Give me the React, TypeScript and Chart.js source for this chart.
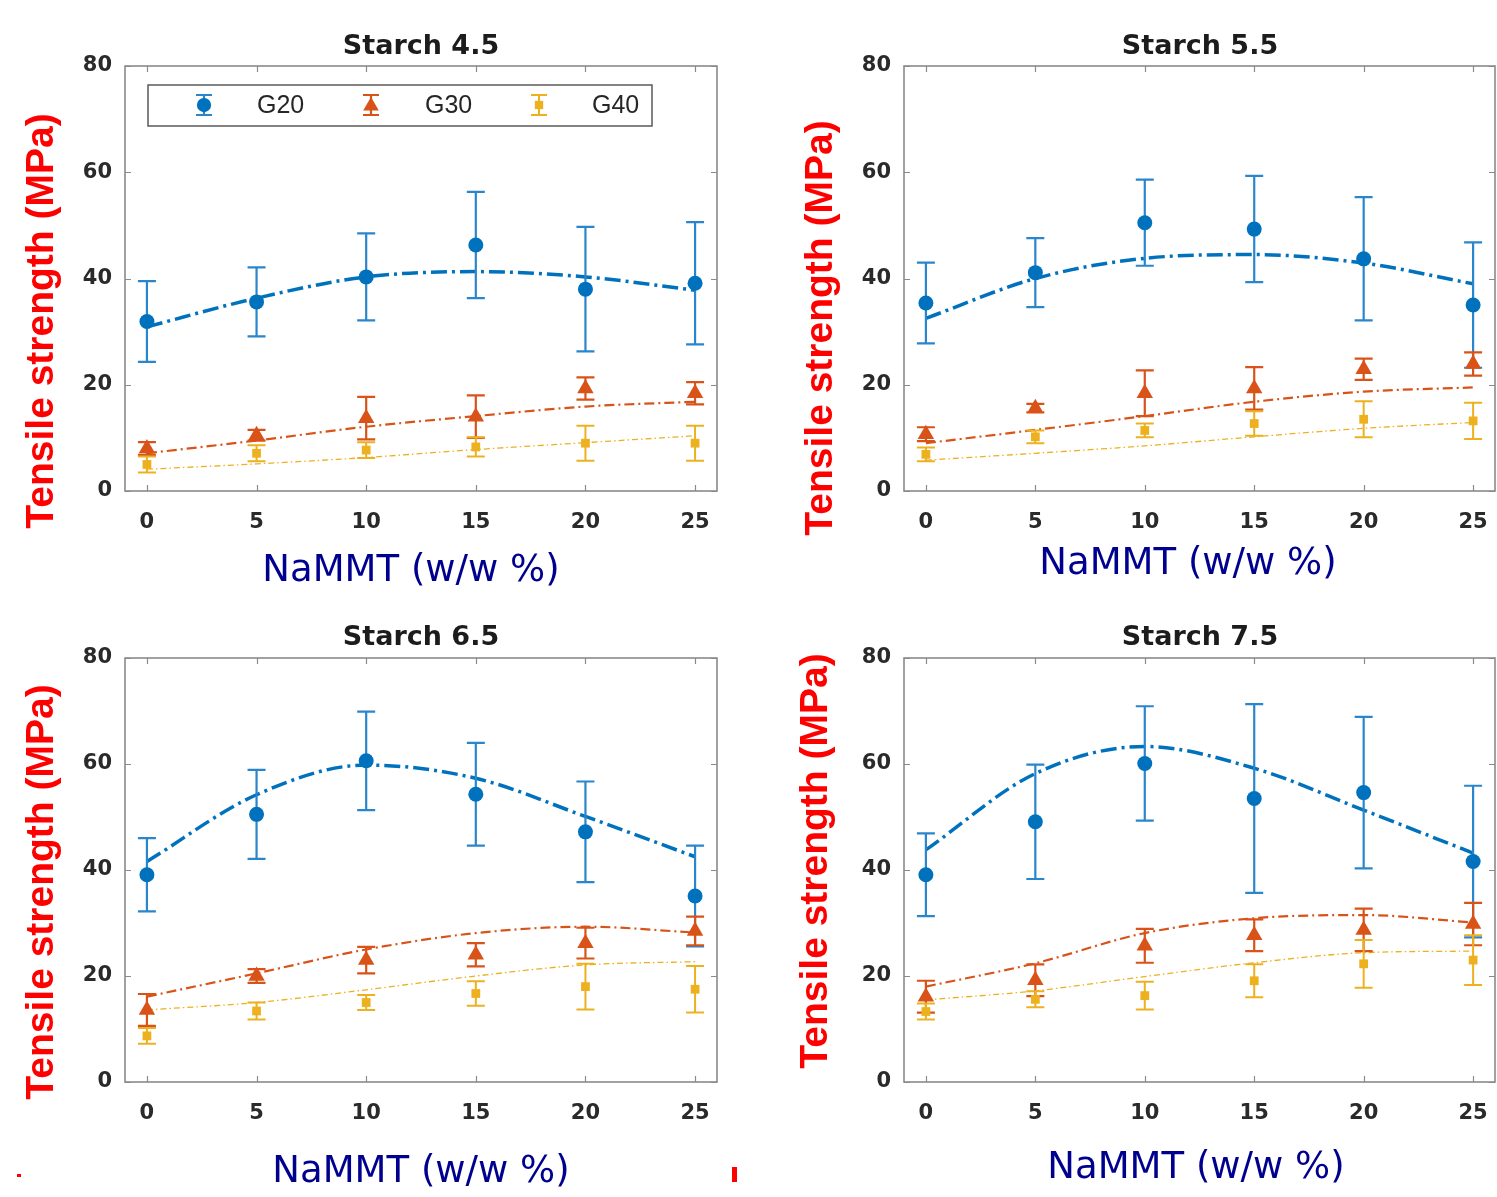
import React, { useEffect, useRef } from 'react';
import { Chart, registerables } from 'chart.js';

Chart.register(...registerables);

// ---------------- data ----------------
const NAMMT = [0, 5, 10, 15, 20, 25];
const X_TICKS = [0, 5, 10, 15, 20, 25];
const Y_TICKS = [0, 20, 40, 60, 80];
const SERIES_NAMES = ['G20', 'G30', 'G40'];
const PANEL_TITLES = ['Starch 4.5', 'Starch 5.5', 'Starch 6.5', 'Starch 7.5'];
const X_LABEL = 'NaMMT (w/w %)';
const Y_LABEL = 'Tensile strength (MPa)';

// Starch 4.5
const S45_G20 = [31.9, 35.6, 40.3, 46.3, 38.0, 39.1];
const S45_G20_ERR = [7.6, 6.5, 8.2, 10.0, 11.7, 11.5];
const S45_G20_FIT = [30.9, 36.3, 40.3, 41.3, 40.3, 37.8];
const S45_G30 = [8.0, 10.5, 13.7, 14.0, 19.3, 18.4];
const S45_G30_ERR = [1.2, 1.0, 4.0, 4.0, 2.1, 2.1];
const S45_G30_FIT = [7.1, 9.5, 12.1, 14.1, 15.9, 16.8];
const S45_G40 = [5.0, 7.1, 7.7, 8.3, 9.0, 9.0];
const S45_G40_ERR = [1.5, 1.5, 1.5, 1.8, 3.3, 3.3];
const S45_G40_FIT = [4.1, 5.1, 6.3, 7.8, 9.1, 10.4];

// Starch 5.5
const S55_G20 = [35.4, 41.1, 50.5, 49.3, 43.7, 35.0];
const S55_G20_ERR = [7.6, 6.5, 8.1, 10.0, 11.6, 11.8];
const S55_G20_FIT = [32.5, 40.0, 43.8, 44.5, 42.9, 39.0];
const S55_G30 = [10.7, 15.6, 18.4, 19.3, 22.9, 23.9];
const S55_G30_ERR = [1.3, 0.8, 4.3, 4.0, 2.0, 2.2];
const S55_G30_FIT = [9.0, 11.5, 14.1, 16.8, 18.7, 19.5];
const S55_G40 = [6.9, 10.2, 11.4, 12.7, 13.5, 13.2];
const S55_G40_ERR = [1.3, 1.2, 1.3, 2.3, 3.4, 3.4];
const S55_G40_FIT = [5.8, 7.1, 8.5, 10.2, 11.8, 12.9];

// Starch 6.5
const S65_G20 = [39.1, 50.5, 60.6, 54.3, 47.2, 35.1];
const S65_G20_ERR = [6.9, 8.4, 9.3, 9.7, 9.5, 9.5];
const S65_G20_FIT = [41.6, 54.2, 59.8, 57.3, 50.1, 42.5];
const S65_G30 = [13.6, 20.0, 23.0, 24.0, 26.2, 28.5];
const S65_G30_ERR = [3.0, 1.3, 2.5, 2.2, 2.9, 2.7];
const S65_G30_FIT = [16.1, 20.5, 25.0, 28.1, 29.3, 28.2];
const S65_G40 = [8.7, 13.4, 15.0, 16.7, 18.0, 17.5];
const S65_G40_ERR = [1.5, 1.6, 1.4, 2.3, 4.3, 4.4];
const S65_G40_FIT = [13.6, 15.0, 17.4, 20.0, 22.1, 22.7];

// Starch 7.5
const S75_G20 = [39.1, 49.1, 60.1, 53.5, 54.6, 41.6];
const S75_G20_ERR = [7.8, 10.8, 10.8, 17.8, 14.3, 14.3];
const S75_G20_FIT = [43.8, 58.2, 63.3, 59.2, 51.3, 43.2];
const S75_G30 = [16.1, 19.2, 25.7, 27.7, 28.7, 29.8];
const S75_G30_ERR = [3.0, 3.0, 3.2, 3.0, 4.0, 4.0];
const S75_G30_FIT = [18.0, 22.4, 28.1, 30.9, 31.5, 30.1];
const S75_G40 = [13.3, 15.6, 16.3, 19.1, 22.3, 23.0];
const S75_G40_ERR = [1.5, 1.5, 2.6, 3.1, 4.5, 4.7];
const S75_G40_FIT = [15.5, 17.2, 19.9, 22.5, 24.4, 24.7];

const PANEL_DATA = [
  { vals: [S45_G20, S45_G30, S45_G40], errs: [S45_G20_ERR, S45_G30_ERR, S45_G40_ERR], fits: [S45_G20_FIT, S45_G30_FIT, S45_G40_FIT] },
  { vals: [S55_G20, S55_G30, S55_G40], errs: [S55_G20_ERR, S55_G30_ERR, S55_G40_ERR], fits: [S55_G20_FIT, S55_G30_FIT, S55_G40_FIT] },
  { vals: [S65_G20, S65_G30, S65_G40], errs: [S65_G20_ERR, S65_G30_ERR, S65_G40_ERR], fits: [S65_G20_FIT, S65_G30_FIT, S65_G40_FIT] },
  { vals: [S75_G20, S75_G30, S75_G40], errs: [S75_G20_ERR, S75_G30_ERR, S75_G40_ERR], fits: [S75_G20_FIT, S75_G30_FIT, S75_G40_FIT] },
];

// ---------------- styles / layout ----------------
const SERIES_STYLE = [
  { color: '#0072BD', bar: '#2a86cc', pointStyle: 'circle', radius: 7.5, fitWidth: 3.5, dash: [16, 5, 3, 5], barWidth: 2.2, order: 3 },
  { color: '#D95319', bar: '#D95319', pointStyle: 'triangle', radius: 9.5, fitWidth: 2.2, dash: [10, 4, 2, 4], barWidth: 2.2, order: 2 },
  { color: '#EDB120', bar: '#EDB120', pointStyle: 'rect', radius: 6.2, fitWidth: 1.3, dash: [6, 3, 1.5, 3], barWidth: 2, order: 1 },
];

const CAP_HALF = 9;
const TICK_FONT = { family: '"DejaVu Sans", sans-serif', size: 21, weight: 'bold' };
const TICK_COLOR = '#2a2a2a';
const BOX_COLOR = '#8a8a8a';

const PANEL_LAYOUT = [
  { left: 0, top: 0, width: 760, height: 600, pad: { left: 75, top: 66, right: 43, bottom: 69 }, title: [421, 47], xl: [411, 571], yl: [53, 321], legend: true },
  { left: 760, top: 0, width: 760, height: 600, pad: { left: 94, top: 66, right: 25, bottom: 69 }, title: [1200, 47], xl: [1188, 564], yl: [832, 328], legend: false },
  { left: 0, top: 600, width: 760, height: 597, pad: { left: 75, top: 58, right: 43, bottom: 75 }, title: [421, 638], xl: [421, 1172], yl: [53, 892], legend: false },
  { left: 760, top: 600, width: 760, height: 597, pad: { left: 94, top: 58, right: 25, bottom: 75 }, title: [1200, 638], xl: [1196, 1168], yl: [827, 861], legend: false },
];

const LEGEND_BOX = { x1: 148, y1: 85, x2: 652, y2: 126 };
const LEGEND_MARK_X = [204, 371, 539];
const LEGEND_TEXT_X = [257, 425, 592];
const LEGEND_Y = 105;

function drawMarker(ctx: CanvasRenderingContext2D, style: string, x: number, y: number, r: number, color: string) {
  ctx.fillStyle = color;
  ctx.beginPath();
  if (style === 'circle') {
    ctx.arc(x, y, r, 0, Math.PI * 2);
  } else if (style === 'triangle') {
    let a = 0;
    ctx.moveTo(x + Math.sin(a) * r, y - Math.cos(a) * r);
    a += (2 * Math.PI) / 3;
    ctx.lineTo(x + Math.sin(a) * r, y - Math.cos(a) * r);
    a += (2 * Math.PI) / 3;
    ctx.lineTo(x + Math.sin(a) * r, y - Math.cos(a) * r);
    ctx.closePath();
  } else {
    const s = r * Math.SQRT1_2;
    ctx.rect(x - s, y - s, 2 * s, 2 * s);
  }
  ctx.fill();
}

function drawErrorBar(ctx: CanvasRenderingContext2D, x: number, y1: number, y2: number, color: string, w: number, cap: number) {
  ctx.save();
  ctx.strokeStyle = color;
  ctx.lineWidth = w;
  ctx.setLineDash([]);
  ctx.beginPath();
  ctx.moveTo(x, y1);
  ctx.lineTo(x, y2);
  ctx.moveTo(x - cap, y1);
  ctx.lineTo(x + cap, y1);
  ctx.moveTo(x - cap, y2);
  ctx.lineTo(x + cap, y2);
  ctx.stroke();
  ctx.restore();
}

const decorPlugin = {
  id: 'decor',
  beforeDatasetDraw(chart: any, args: any) {
    const ds = chart.data.datasets[args.index];
    if (!ds.errors) return;
    const xs = chart.scales.x;
    const ys = chart.scales.y;
    const ctx = chart.ctx;
    ds.data.forEach((p: any, i: number) => {
      const e = ds.errors[i];
      const px = xs.getPixelForValue(p.x);
      drawErrorBar(ctx, px, ys.getPixelForValue(p.y + e), ys.getPixelForValue(p.y - e), ds.barColor, ds.barWidth, CAP_HALF);
    });
  },
  afterDatasetsDraw(chart: any) {
    const { ctx, chartArea } = chart;
    const { left, right, top, bottom } = chartArea;
    const xs = chart.scales.x;
    const ys = chart.scales.y;
    ctx.save();
    ctx.strokeStyle = BOX_COLOR;
    ctx.lineWidth = 1.6;
    ctx.setLineDash([]);
    ctx.strokeRect(left, top, right - left, bottom - top);
    ctx.beginPath();
    X_TICKS.forEach((v) => {
      const px = Math.round(xs.getPixelForValue(v)) + 0.5;
      ctx.moveTo(px, bottom);
      ctx.lineTo(px, bottom - 6);
      ctx.moveTo(px, top);
      ctx.lineTo(px, top + 6);
    });
    Y_TICKS.forEach((v) => {
      const py = Math.round(ys.getPixelForValue(v)) + 0.5;
      ctx.moveTo(left, py);
      ctx.lineTo(left + 6, py);
      ctx.moveTo(right, py);
      ctx.lineTo(right - 6, py);
    });
    ctx.lineWidth = 1.2;
    ctx.stroke();
    ctx.restore();
  },
  afterDraw(chart: any, _args: any, opts: any) {
    const ctx = chart.ctx;
    const L = opts.layout;
    ctx.save();
    // title
    ctx.fillStyle = '#1c1c1c';
    ctx.font = 'bold 27px "DejaVu Sans", sans-serif';
    ctx.textAlign = 'center';
    ctx.textBaseline = 'middle';
    ctx.fillText(opts.title, L.title[0] - L.left, L.title[1] - L.top);
    // x label
    ctx.fillStyle = '#00008f';
    ctx.font = '37px "DejaVu Sans", sans-serif';
    ctx.fillText(X_LABEL, L.xl[0] - L.left, L.xl[1] - L.top);
    // y label
    ctx.save();
    ctx.translate(L.yl[0] - L.left, L.yl[1] - L.top);
    ctx.rotate(-Math.PI / 2);
    ctx.fillStyle = '#ff0000';
    ctx.font = 'bold 39px "Liberation Sans", Arial, sans-serif';
    ctx.textAlign = 'center';
    ctx.textBaseline = 'alphabetic';
    ctx.fillText(Y_LABEL, 0, 0);
    ctx.restore();
    // legend
    if (L.legend) {
      const ox = L.left;
      const oy = L.top;
      ctx.fillStyle = '#ffffff';
      ctx.fillRect(LEGEND_BOX.x1 - ox, LEGEND_BOX.y1 - oy, LEGEND_BOX.x2 - LEGEND_BOX.x1, LEGEND_BOX.y2 - LEGEND_BOX.y1);
      ctx.strokeStyle = '#5a5a5a';
      ctx.lineWidth = 1.5;
      ctx.strokeRect(LEGEND_BOX.x1 - ox, LEGEND_BOX.y1 - oy, LEGEND_BOX.x2 - LEGEND_BOX.x1, LEGEND_BOX.y2 - LEGEND_BOX.y1);
      SERIES_NAMES.forEach((name, s) => {
        const st = SERIES_STYLE[s];
        const mx = LEGEND_MARK_X[s] - ox;
        const my = LEGEND_Y - oy;
        drawErrorBar(ctx, mx, my - 10, my + 10, st.bar, st.barWidth, 8);
        drawMarker(ctx, st.pointStyle, mx, my + (st.pointStyle === 'triangle' ? 1 : 0), st.radius * 0.95, st.color);
        ctx.fillStyle = '#262626';
        ctx.font = '25px "Liberation Sans", Arial, sans-serif';
        ctx.textAlign = 'left';
        ctx.textBaseline = 'middle';
        ctx.fillText(name, LEGEND_TEXT_X[s] - ox, my + 1);
      });
    }
    ctx.restore();
  },
};

function Panel({ idx }: { idx: number }) {
  const ref = useRef<HTMLCanvasElement>(null);
  const L = PANEL_LAYOUT[idx];
  useEffect(() => {
    const d = PANEL_DATA[idx];
    const datasets: any[] = [];
    SERIES_NAMES.forEach((name, s) => {
      const st = SERIES_STYLE[s];
      datasets.push({
        type: 'line',
        label: name + ' fit',
        data: NAMMT.map((x, i) => ({ x, y: d.fits[s][i] })),
        borderColor: st.color,
        borderWidth: st.fitWidth,
        borderDash: st.dash,
        pointRadius: 0,
        fill: false,
        cubicInterpolationMode: 'monotone',
        order: 10,
      });
    });
    SERIES_NAMES.forEach((name, s) => {
      const st = SERIES_STYLE[s];
      datasets.push({
        type: 'scatter',
        label: name,
        data: NAMMT.map((x, i) => ({ x, y: d.vals[s][i] })),
        pointStyle: st.pointStyle,
        pointRadius: st.radius,
        backgroundColor: st.color,
        borderColor: st.color,
        borderWidth: 0,
        errors: d.errs[s],
        barColor: st.bar,
        barWidth: st.barWidth,
        order: st.order,
      });
    });
    const chart = new Chart(ref.current as HTMLCanvasElement, {
      type: 'scatter',
      data: { datasets },
      plugins: [decorPlugin],
      options: {
        animation: false,
        responsive: false,
        devicePixelRatio: 1,
        layout: { padding: L.pad },
        plugins: {
          legend: { display: false },
          tooltip: { enabled: false },
          decor: { title: PANEL_TITLES[idx], layout: L },
        } as any,
        scales: {
          x: {
            type: 'linear',
            min: -1,
            max: 26,
            grid: { display: false, drawTicks: false },
            border: { display: false },
            ticks: { font: TICK_FONT as any, color: TICK_COLOR, padding: 19, maxRotation: 0, autoSkip: false },
            afterBuildTicks: (s: any) => { s.ticks = X_TICKS.map((v) => ({ value: v })); },
            afterFit: (s: any) => { s.height = 40; },
          },
          y: {
            type: 'linear',
            min: 0,
            max: 80,
            grid: { display: false, drawTicks: false },
            border: { display: false },
            ticks: { font: TICK_FONT as any, color: TICK_COLOR, padding: 13 },
            afterBuildTicks: (s: any) => { s.ticks = Y_TICKS.map((v) => ({ value: v })); },
            afterFit: (s: any) => { s.width = 50; },
          },
        },
      } as any,
    });
    return () => chart.destroy();
  }, [idx]);
  return (
    <canvas
      ref={ref}
      width={L.width}
      height={L.height}
      style={{ position: 'absolute', left: L.left, top: L.top, width: L.width, height: L.height }}
    />
  );
}

export default function App() {
  return (
    <div style={{ position: 'absolute', left: 0, top: 0, width: 1497, height: 1197, background: '#ffffff', overflow: 'hidden' }}>
      {PANEL_TITLES.map((_, i) => (
        <Panel key={i} idx={i} />
      ))}
      <div style={{ position: 'absolute', left: 17, top: 1174, width: 4, height: 3, background: '#ff0000' }} />
      <div style={{ position: 'absolute', left: 732, top: 1167, width: 5, height: 15, background: '#ff0000' }} />
    </div>
  );
}
